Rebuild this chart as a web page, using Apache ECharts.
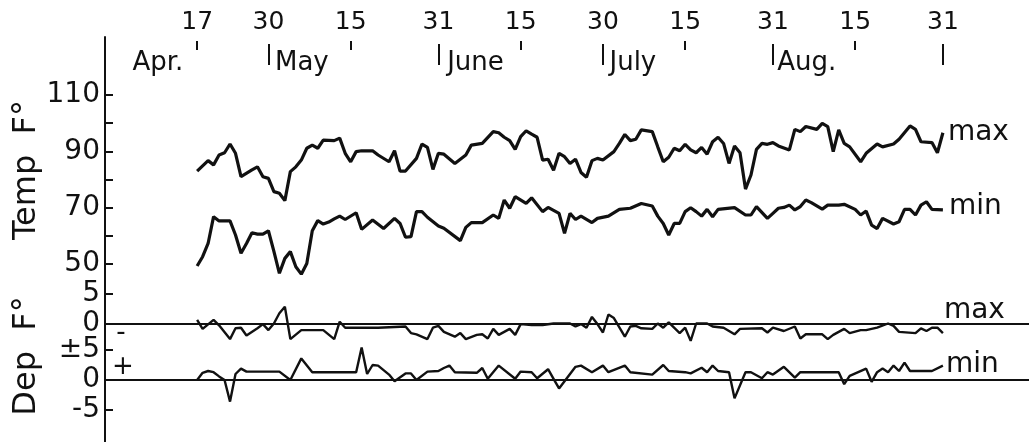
<!DOCTYPE html>
<html><head><meta charset="utf-8">
<script src="https://cdn.jsdelivr.net/npm/echarts@6/dist/echarts.min.js"></script>
<style>html,body{margin:0;padding:0;background:#fff}#c{width:1029px;height:442px}</style>
</head><body><div id="c"></div>
<script>
// ---- axis ticks / labels (day 0 = April 17) ----
const dateTickDays   = [0, 13, 28, 44, 59, 74, 89, 105, 120, 136];
const dateTickLabels = ['17','30','15','31','15','30','15','31','15','31'];
const monthEndDays   = [13, 44, 74, 105, 136];
const midMonthDays   = [0, 28, 59, 89, 120];
const monthNames     = ['Apr.', 'May', 'June', 'July', 'Aug.'];
const tempTickValues = [50, 60, 70, 80, 90, 100, 110];
const tempLabelValues= [50, 70, 90, 110];
const depMaxLabelValues = [0, 5];
const depMaxLabelText   = ['0', '5'];
const depMinLabelValues = [-5, 0, 5];
const depMinLabelText   = ['-5', '0', '±5'];

// ---- daily maximum temperature (°F) ----
const maxDays = [0,2,3,4,5,6,7,8,10,11,12,13,14,15,16,17,18,19,20,21,22,23,25,26,27,28,29,30,32,33,35,36,37,38,40,41,42,43,44,45,47,49,50,52,54,55,56,57,58,59,60,61,62,63,64,65,66,67,68,69,70,71,72,73,74,76,77,78,79,80,81,83,84,85,86,87,88,89,90,91,92,93,94,95,96,97,98,99,100,101,102,103,104,105,106,108,109,110,111,113,114,115,116,117,118,119,121,122,124,125,127,128,130,131,132,134,135,136];
const maxTemp = [83,86.7,85.2,88.7,89.5,92.6,89.3,81,83.4,84.5,81,80.4,75.7,75.1,72.5,82.8,84.5,86.9,91.1,92.2,91.1,94,93.8,94.7,89.3,86.3,89.9,90.2,90.2,88.7,86.3,90.2,83,83,87.5,92.6,91.4,83.6,89.3,89,85.7,88.7,92.2,92.8,97,96.6,95,93.8,90.7,95.2,97.3,96.1,95,86.9,87.2,83.3,89.3,88.1,85.7,87.2,82.5,80.8,86.7,87.5,86.9,89.9,92.8,96,93.8,94.3,97.6,97,91.6,86.3,87.9,91.1,90.2,92.5,90.5,89.5,91.4,89,93.4,95,92.8,85.7,91.9,89.5,76.6,81.6,90.7,92.8,92.5,93.1,91.9,90.5,97.8,97,98.8,97.8,99.9,98.8,89.9,97.6,92.8,91.6,86.3,89.3,92.6,91.6,92.6,94.3,99,97.8,93.4,93.1,89.5,96.6];

// ---- daily minimum temperature (°F) ----
const minDays = [0,1,2,3,4,6,7,8,9,10,11,12,13,14,15,16,17,18,19,20,21,22,23,24,25,26,27,29,30,32,34,36,37,38,39,40,41,42,44,45,48,49,50,52,54,55,56,57,58,60,61,63,64,66,67,68,69,70,72,73,75,77,79,81,83,84,85,86,87,88,89,90,91,92,93,94,95,98,100,101,102,104,105,106,107,108,109,110,111,112,114,115,117,118,120,121,122,123,124,125,127,128,129,130,131,132,133,134,136];
const minTemp = [49.3,52.6,57.3,66.8,65.3,65.3,60.3,53.8,57.3,61.1,60.6,60.6,61.8,54.5,46.7,52,54.4,49,46.4,50.2,61.8,65.4,64.2,64.9,66,67,65.8,68.2,62.3,65.6,62.6,66.2,64.4,59.5,59.7,68.6,68.6,66.6,63.5,62.7,58.3,63,64.7,64.7,67.4,66.2,72.7,69.8,73.9,71.5,73.5,68.6,70.1,68,60.9,68,65.8,67,64.7,66.2,67,69.4,69.8,71.5,70.6,67,64.4,60.3,64.4,64.4,68.6,70,68.6,67,69.4,66.8,69.4,70,67.4,67.4,70.4,66.2,68,69.8,70.1,70.9,69.2,70.4,72.7,71.8,69.5,70.9,70.9,71.2,69.4,67.4,68.8,63.8,62.6,66.2,64.2,65,69.4,69.4,67.4,70.9,72.1,69.4,69.2];

// ---- departure of maximum (°F) ----
const depMaxDays = [0,1,3,4,6,7,8,9,11,12,13,14,15,16,17,19,23,25,26,27,33,38,39,40,42,43,44,45,47,48,49,51,52,53,54,55,56,57,58,59,61,63,65,68,69,70,71,72,73,74,75,76,78,79,80,81,83,84,85,86,88,89,90,91,93,94,96,98,99,103,104,105,107,109,110,111,114,115,116,118,119,121,122,124,126,127,128,131,132,133,134,135,136];
const depMax = [0.6,-0.9,0.6,-0.3,-2.6,-0.8,-0.7,-2,-0.8,-0.1,-1.1,0,1.7,2.8,-2.6,-1.1,-1.1,-2.6,0.3,-0.7,-0.7,-0.5,-1.6,-1.8,-2.6,-0.7,-0.4,-1.4,-2.2,-1.6,-2.6,-1.9,-1.8,-2.5,-0.9,-1.9,-1.4,-0.9,-1.9,-0.1,-0.25,-0.25,0,0,-0.5,-0.1,-0.7,1.1,-0.1,-1.5,1.5,0.9,-2.2,-0.5,-0.4,-0.8,-0.9,0,-0.7,0.2,-1.6,-0.7,-2.9,0,0,-0.5,-0.7,-1.8,-0.9,-0.8,-1.5,-0.7,-1.25,-0.5,-2.5,-1.8,-1.8,-2.6,-1.9,-0.9,-1.6,-1.1,-1.1,-0.7,0,-0.4,-1.4,-1.6,-0.8,-1.25,-0.7,-0.7,-1.6];

// ---- departure of minimum (°F) ----
const depMinDays = [0,1,2,3,4,5,6,7,8,9,15,17,19,21,29,30,31,32,33,35,36,38,39,40,42,44,45,46,47,51,52,53,55,58,59,61,62,64,65,66,67,69,70,72,74,75,78,79,83,85,86,89,90,92,93,94,95,97,98,100,101,103,104,105,107,109,110,117,118,119,122,123,124,125,126,127,128,129,130,134,136];
const depMin = [0,1.2,1.5,1.3,0.6,0,-3.6,1.0,1.9,1.4,1.4,0,3.6,1.3,1.3,5.4,1.0,2.5,2.4,0.9,-0.2,1.1,1.1,0,1.4,1.5,2.0,2.4,1.3,1.2,2.0,0.2,2.4,0.2,1.4,1.3,0.3,1.8,0.2,-1.4,-0.2,2.2,2.4,1.3,2.4,1.3,2.4,1.3,0.9,2.5,1.5,1.3,1.1,2.05,1.3,2.4,1.5,1.3,-3.06,1.3,1.3,0.3,1.3,0.9,2.2,0.4,1.3,1.3,-0.7,0.7,1.9,-0.3,1.3,1.9,1.3,2.4,1.5,2.9,1.5,1.5,2.4];

const pairs = (xs, ys) => xs.map((x, i) => [x, ys[i]]);

const FONT = 'DejaVu Sans';
const INK = '#111';
const X_MIN = -16.8, X_MAX = 151.7;   // axis extent in days (plot spans left edge to right edge)
const monthLabelDays = [-11.8, monthEndDays[0] + 1.2, monthEndDays[1] + 1.6, monthEndDays[2] + 1.2, monthEndDays[3] + 0.8];

const baseX = (grid, extra) => Object.assign({
  type: 'value', gridIndex: grid, min: X_MIN, max: X_MAX,
  axisLine: { show: false }, axisTick: { show: false }, axisLabel: { show: false }, splitLine: { show: false }
}, extra || {});

const chart = echarts.init(document.getElementById('c'), null, { renderer: 'canvas' });
chart.setOption({
  animation: false,
  backgroundColor: '#fff',
  textStyle: { fontFamily: FONT, color: INK },
  grid: [
    { left: 105, right: 0, top: 37, bottom: 0 },         // frame (vertical axis line)
    { left: 105, right: 0, top: 55, height: 10 },        // date axis
    { left: 105, right: 0, top: 95, height: 183.1 },     // temperature 45..110
    { left: 105, right: 0, top: 287.5, height: 66 },     // departure max -5..6
    { left: 105, right: 0, top: 344, height: 84 }        // departure min -8..6
  ],
  xAxis: [
    baseX(0),
    baseX(1, {
      position: 'top',
      axisTick: { show: true, customValues: monthEndDays, length: 21, lineStyle: { color: INK, width: 2 } },
      axisLabel: { show: true, customValues: dateTickDays, margin: 20, fontSize: 25, color: INK, fontFamily: FONT,
        formatter: v => dateTickLabels[dateTickDays.indexOf(v)] }
    }),
    baseX(1, {
      position: 'top', offset: 5,
      axisTick: { show: true, customValues: midMonthDays, length: 9, lineStyle: { color: INK, width: 2 } }
    }),
    baseX(1, {
      position: 'top',
      axisLabel: { show: true, inside: true, customValues: monthLabelDays, align: 'left', margin: -5,
        fontSize: 26, color: INK, fontFamily: FONT,
        formatter: v => monthNames[monthLabelDays.indexOf(v)] }
    }),
    baseX(2),
    baseX(3, { axisLine: { show: true, onZero: true, lineStyle: { color: INK, width: 2 } } }),
    baseX(4, { axisLine: { show: true, onZero: true, lineStyle: { color: INK, width: 2 } } })
  ],
  yAxis: [
    { type: 'value', gridIndex: 0, min: 0, max: 1,
      axisLine: { show: true, onZero: false, lineStyle: { color: INK, width: 2 } },
      axisTick: { show: false }, axisLabel: { show: false }, splitLine: { show: false } },
    { type: 'value', gridIndex: 1, show: false, splitLine: { show: false } },
    { type: 'value', gridIndex: 2, min: 45, max: 110,
      axisLine: { show: false, onZero: false }, splitLine: { show: false },
      axisTick: { show: true, inside: true, length: 8, customValues: tempTickValues, lineStyle: { color: INK, width: 2 } },
      axisLabel: { customValues: tempLabelValues, margin: 5, fontSize: 28, color: INK, fontFamily: FONT } },
    { type: 'value', gridIndex: 3, min: -5, max: 6,
      axisLine: { show: false, onZero: false }, splitLine: { show: false },
      axisTick: { show: true, inside: true, length: 8, customValues: [5], lineStyle: { color: INK, width: 2 } },
      axisLabel: { customValues: depMaxLabelValues, margin: 5, fontSize: 28, color: INK, fontFamily: FONT,
        formatter: v => depMaxLabelText[depMaxLabelValues.indexOf(v)] } },
    { type: 'value', gridIndex: 4, min: -8, max: 6,
      axisLine: { show: false, onZero: false }, splitLine: { show: false },
      axisTick: { show: true, inside: true, length: 8, customValues: [-5, 5], lineStyle: { color: INK, width: 2 } },
      axisLabel: { customValues: depMinLabelValues, margin: 5, fontSize: 28, color: INK, fontFamily: FONT,
        formatter: v => depMinLabelText[depMinLabelValues.indexOf(v)] } }
  ],
  series: [
    { name: 'max', type: 'line', xAxisIndex: 4, yAxisIndex: 2, data: pairs(maxDays, maxTemp),
      symbol: 'none', lineStyle: { color: INK, width: 3.2 }, silent: true,
      endLabel: { show: true, formatter: 'max', fontSize: 28, color: INK, fontFamily: FONT, distance: 5 } },
    { name: 'min', type: 'line', xAxisIndex: 4, yAxisIndex: 2, data: pairs(minDays, minTemp),
      symbol: 'none', lineStyle: { color: INK, width: 3.2 }, silent: true,
      endLabel: { show: true, formatter: 'min', fontSize: 28, color: INK, fontFamily: FONT, distance: 6, offset: [0, -3] } },
    { name: 'dep max', type: 'line', xAxisIndex: 5, yAxisIndex: 3, data: pairs(depMaxDays, depMax),
      symbol: 'none', lineStyle: { color: INK, width: 2.4 }, silent: true,
      endLabel: { show: true, formatter: 'max', fontSize: 28, color: INK, fontFamily: FONT, distance: 1, offset: [0, -22] } },
    { name: 'dep min', type: 'line', xAxisIndex: 6, yAxisIndex: 4, data: pairs(depMinDays, depMin),
      symbol: 'none', lineStyle: { color: INK, width: 2.4 }, silent: true,
      endLabel: { show: true, formatter: 'min', fontSize: 28, color: INK, fontFamily: FONT, distance: 3, offset: [0, -1] } }
  ],
  graphic: [
    { type: 'text', x: 27, y: 170, rotation: Math.PI / 2,
      style: { text: 'Temp  F°', font: '32px "DejaVu Sans"', fill: INK, align: 'center', verticalAlign: 'middle' } },
    { type: 'text', x: 27, y: 356, rotation: Math.PI / 2,
      style: { text: 'Dep  F°', font: '32px "DejaVu Sans"', fill: INK, align: 'center', verticalAlign: 'middle' } },
    { type: 'text', x: 121, y: 333,
      style: { text: '-', font: '26px "DejaVu Sans"', fill: INK, align: 'center', verticalAlign: 'middle' } },
    { type: 'text', x: 123, y: 367,
      style: { text: '+', font: '26px "DejaVu Sans"', fill: INK, align: 'center', verticalAlign: 'middle' } }
  ]
});
</script>
</body></html>
